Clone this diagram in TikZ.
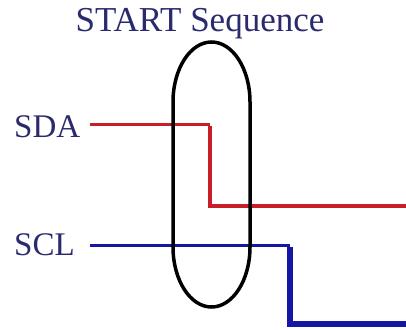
\documentclass[tikz,border=0pt]{standalone}
\usepackage{fontspec}
\setmainfont{Liberation Serif}
\usepackage{xcolor}
\usetikzlibrary{shapes.geometric,positioning,calc}

\definecolor{navy}{RGB}{42,42,110}
\definecolor{sdared}{RGB}{200,30,40}
\definecolor{sclblue}{RGB}{22,22,165}

\begin{document}
\begin{tikzpicture}[x=1pt,y=-1pt,
		sig/.style={font=\fontsize{33}{34}\selectfont, text=navy, inner sep=0pt},
		sdaline/.style={draw=sdared},
		sclline/.style={draw=sclblue}]
		\useasboundingbox (0,0) rectangle (406,329);

		\node[sig, font=\fontsize{35}{36}\selectfont] (title) at (200,24) {START Sequence};
		\node[sig, anchor=west] (sda) at (14,127) {SDA};
		\node[sig, anchor=west] (scl) at (14,245) {SCL};

		% signal corners
		\coordinate (sdaStart) at (90,124);
		\coordinate (sdaHigh) at (210,124);
		\coordinate (sdaLow) at (210,206);
		\coordinate (sdaEnd) at (406,206);
		\coordinate (sclStart) at (90,245);
		\coordinate (sclHigh) at (290,245);
		\coordinate (sclLow) at (290,324);
		\coordinate (sclEnd) at (406,324);

		\draw[sdaline, line width=3pt] (sdaStart) -- (sdaHigh);
		\draw[sdaline, line width=4.5pt, line join=miter] ([yshift=-1.5pt]sdaHigh) -- (sdaLow) -- (sdaEnd);
		\draw[sclline, line width=3pt] (sclStart) -- (sclHigh);
		\draw[sclline, line width=6pt, line join=miter] ([yshift=-1.5pt]sclHigh) -- (sclLow) -- (sclEnd);

		% start window
		\draw[line width=3.5pt] (173,102) arc[start angle=180, end angle=0, x radius=38.5pt, y radius=60pt]
			-- (250,247) arc[start angle=0, end angle=-180, x radius=38.5pt, y radius=60pt] -- cycle;
	\end{tikzpicture}
\end{document}
